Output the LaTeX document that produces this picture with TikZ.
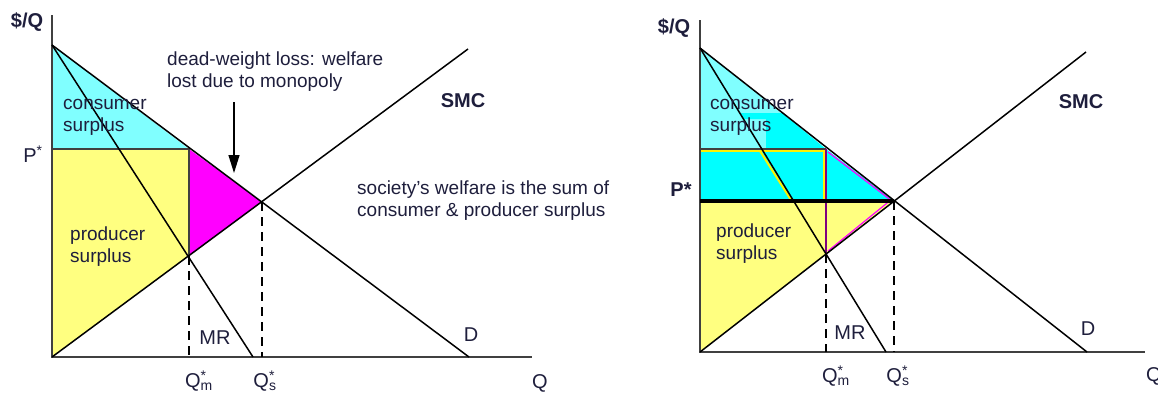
\documentclass[tikz,border=0pt]{standalone}
\usepackage{fontspec}
\setmainfont{Liberation Sans}
\usepackage{xcolor}
\usepackage{tikz}
\usetikzlibrary{arrows.meta,calc}

\definecolor{cslight}{HTML}{80FFFF}
\definecolor{csbright}{HTML}{00FFFF}
\definecolor{psyellow}{HTML}{FFFF80}
\definecolor{dwlmag}{HTML}{FF00FF}
\definecolor{inktext}{HTML}{1E1E3C}
\definecolor{axisgray}{HTML}{404040}

\newcommand{\qstar}[1]{Q\rlap{\textsuperscript{*}}\textsubscript{#1}}

\begin{document}
\begin{tikzpicture}[
  x=1pt, y=-1pt,
  every node/.style={font=\fontsize{19}{22}\selectfont, text=inktext, inner sep=0pt},
  curve/.style={black, line width=1.5pt},
  axisline/.style={axisgray, line width=1.5pt},
  qline/.style={black, line width=1.2pt, dash pattern=on 9pt off 6pt},
  edgeline/.style={axisgray, line width=1.1pt},
  axlabel/.style={font=\fontsize{20}{22}\selectfont},
  boldlabel/.style={font=\fontsize{20}{22}\selectfont\bfseries},
]
\useasboundingbox (0,0) rectangle (1158,400);

%% ── Left panel: key points (pixels, y down) ─────────────────────────────────
\coordinate (Lo)   at (52,357);   % origin
\coordinate (Ltop) at (52,15);
\coordinate (Lend) at (532,357);
\coordinate (LA)   at (52,45);    % demand intercept
\coordinate (LD)   at (469,357);
\coordinate (LMR)  at (253,357);
\coordinate (LS)   at (468,49);
\coordinate (LPa)  at (52,149);   % P* on axis
\coordinate (LPm)  at (189,149);  % P* at Qm
\coordinate (LEm)  at (189,256);  % MR = SMC
\coordinate (LEs)  at (262,202);  % D = SMC

% surplus areas
\fill[cslight]   (LA) -- (LPm) -- (LPa) -- cycle;
\fill[psyellow]  (LPa) -- (LPm) -- (LEm) -- (Lo) -- cycle;
\fill[dwlmag]    (LPm) -- (LEs) -- (LEm) -- cycle;
\draw[edgeline]  (LPa) -- (LPm) -- (LEm);

% axes
\draw[axisline] (Ltop) -- (Lo) -- (Lend);

% curves
\draw[curve] (LA) -- (LD);
\draw[curve] (LA) -- (LMR);
\draw[curve] (Lo) -- (LS);

% quantities
\draw[qline] (LEm) -- (LEm |- Lo);
\draw[qline] (LEs) -- (LEs |- Lo);

% dead-weight loss arrow
\coordinate (dwltail) at (234,102);
\coordinate (dwltip)  at (234,173);
\draw[black, line width=1.3pt, -{Triangle[width=11pt,length=18pt]}] (dwltail) -- (dwltip);

% labels
\node[boldlabel] (lpq)   at (27,22)  {\$/Q};
\node[axlabel]   (lpst)  at (33,154) {P\textsuperscript{*}};
\node[anchor=west, align=left] (lcs) at (63,117) {consumer\\surplus};
\node[anchor=west, align=left] (lps) at (70,247) {producer\\surplus};
\node[anchor=west, align=left] (ldwl) at (167,72) {dead-weight loss: welfare\\lost due to monopoly};
\node[boldlabel] (lsmc)  at (463,101) {SMC};
\node[anchor=west, align=left] (lwel) at (357,201) {society's welfare is the sum of\\consumer \& producer surplus};
\node[axlabel]   (lmr)   at (215,338) {MR};
\node[axlabel]   (ldl)   at (471,335) {D};
\node[axlabel]   (lqm)   at (199,381) {\qstar{m}};
\node[axlabel]   (lqs)   at (265,381) {\qstar{s}};
\node[axlabel]   (lq)    at (540,383) {Q};

%% ── Right panel: key points ─────────────────────────────────────────────────
\coordinate (Ro)   at (700,352);
\coordinate (Rtop) at (700,20);
\coordinate (Rend) at (1145,352);
\coordinate (RA)   at (700,48);
\coordinate (RD)   at (1087,352);
\coordinate (RMR)  at (886,352);
\coordinate (RS)   at (1086,52);
\coordinate (RPa)  at (700,149);
\coordinate (RPm)  at (826,149);
\coordinate (RSa)  at (700,201);  % P* on axis
\coordinate (RSm)  at (826,201);
\coordinate (REm)  at (826,254);
\coordinate (REs)  at (894,201);

% surplus areas
\fill[cslight]   (RA) -- (RPm) -- (RPa) -- cycle;
\fill[csbright]  (740,113) -- (782,113) -- (RPm) -- (766,149) -- (766,119) -- (743,119) -- cycle;
\fill[csbright]  (RPa) rectangle (RSm);
\fill[csbright]  (RPm) -- (REs) -- (RSm) -- cycle;
\fill[psyellow]  (RSa) -- (REs) -- (Ro) -- cycle;
\draw[yellow, line width=1.4pt] (701,151) -- (824,151) -- (824,200);
\draw[yellow, line width=2pt] (760,151) -- (791,200);
\draw[edgeline] (RPa) -- (RPm);
\draw[dwlmag, line width=1.2pt] (828,152) -- (892,201);
\draw[dwlmag, line width=1.2pt] (828,251) -- (892,199);
\draw[black!50!dwlmag, line width=1.2pt] (RPm) -- (REm);

% axes
\draw[axisline] (Rtop) -- (Ro) -- (Rend);

% curves
\draw[curve] (RA) -- (RD);
\draw[curve] (RA) -- (RMR);
\draw[curve] (Ro) -- (RS);
\draw[black, line width=3.5pt] (RSa) -- (REs);

% quantities
\draw[qline] (REm) -- (REm |- Ro);
\draw[qline] (REs) -- (REs |- Ro);

% labels
\node[boldlabel] (rpq)   at (674,28)  {\$/Q};
\node[boldlabel] (rpst)  at (681,190) {P*};
\node[anchor=west, align=left] (rcs) at (710,117) {consumer\\surplus};
\node[anchor=west, align=left] (rps) at (716,244) {producer\\surplus};
\node[boldlabel] (rsmc)  at (1081,102) {SMC};
\node[axlabel]   (rmr)   at (850,333) {MR};
\node[axlabel]   (rdl)   at (1088,329) {D};
\node[axlabel]   (rqm)   at (836,376) {\qstar{m}};
\node[axlabel]   (rqs)   at (898,376) {\qstar{s}};
\node[axlabel]   (rq)    at (1154,376) {Q};

\end{tikzpicture}
\end{document}
